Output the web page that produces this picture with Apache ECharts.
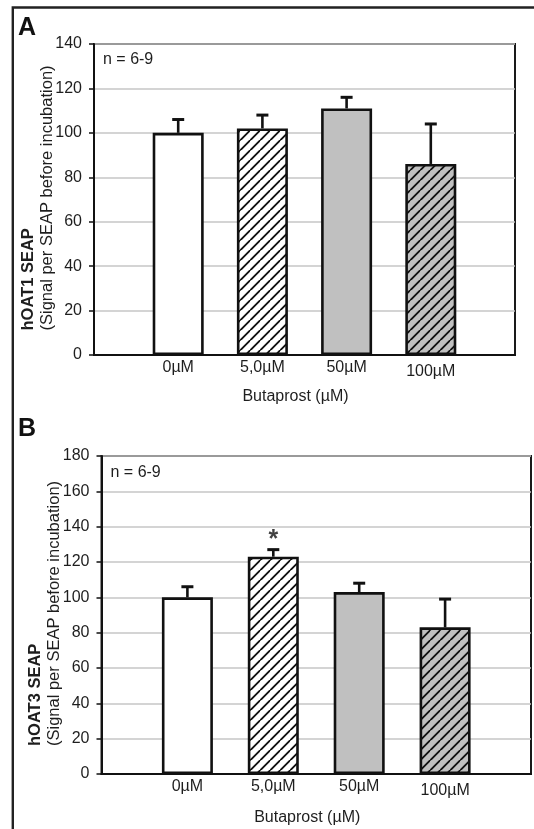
<!DOCTYPE html>
<html>
<head>
<meta charset="utf-8">
<script src="https://cdn.jsdelivr.net/npm/echarts@6/dist/echarts.min.js"></script>
<style>
  html, body { margin: 0; padding: 0; background: #fff; }
  #chart { width: 534px; height: 829px; }
</style>
</head>
<body>
<div id="chart"></div>
<script>
// values
const categories = ['0µM', '5,0µM', '50µM', '100µM'];
const oat1Mean = [100, 102, 111, 86];
const oat1Upper = [106, 108, 116, 104];
const oat3Mean = [100, 123, 103, 83];
const oat3Upper = [106, 127, 108, 99];
const starValue = 134; // "*" above 5,0µM in panel B
const starIndex = 1;

const FONT = '"Liberation Sans", Arial, sans-serif';
const INK = '#1e1e1e';
const GREY = '#c0c0c0';

// diagonal hatch pattern
function hatch(bg) {
  const s = 10.5;
  const c = document.createElement('canvas');
  c.width = s; c.height = s;
  const ctx = c.getContext('2d');
  ctx.fillStyle = bg;
  ctx.fillRect(0, 0, s, s);
  ctx.strokeStyle = '#111';
  ctx.lineWidth = 1.9;
  ctx.beginPath();
  ctx.moveTo(-1, s + 1); ctx.lineTo(s + 1, -1);
  ctx.moveTo(-1, 1); ctx.lineTo(1, -1);
  ctx.moveTo(s - 1, s + 1); ctx.lineTo(s + 1, s - 1);
  ctx.stroke();
  return { image: c, repeat: 'repeat' };
}

const fills = ['#ffffff', hatch('#ffffff'), GREY, hatch(GREY)];

// pad categories so bars sit at 1/5 ... 4/5 of the width
const axisCats = [''].concat(categories, ['']);

function barData(values) {
  return ['-'].concat(values.map((v, i) => ({ value: v, itemStyle: { color: fills[i] } })), ['-']);
}
function errData(mean, upper) {
  return mean.map((m, i) => [i + 1, m, upper[i]]);
}

function errorBar(params, api) {
  const base = api.coord([api.value(0), api.value(1)]);
  const top = api.coord([api.value(0), api.value(2)]);
  return {
    type: 'group',
    children: [
      { type: 'line', shape: { x1: base[0], y1: base[1], x2: top[0], y2: top[1] },
        style: { stroke: '#111', lineWidth: 2.6 } },
      { type: 'line', shape: { x1: top[0] - 6, y1: top[1], x2: top[0] + 6, y2: top[1] },
        style: { stroke: '#111', lineWidth: 3 } }
    ]
  };
}

function yName(label) {
  return '{b|' + label + '}\n{n|(Signal per SEAP before incubation)}';
}
const yNameStyle = {
  color: INK,
  fontFamily: FONT,
  rich: {
    b: { fontWeight: 'bold', fontSize: 16.5, width: 262, align: 'left', lineHeight: 19, color: INK, fontFamily: FONT },
    n: { fontSize: 16.5, width: 262, align: 'left', lineHeight: 19, color: INK, fontFamily: FONT }
  }
};

function yAxis(idx, max, gap) {
  return {
    type: 'value', gridIndex: idx, min: 0, max: max, interval: 20,
    name: yName(idx === 0 ? 'hOAT1 SEAP' : 'hOAT3 SEAP'),
    nameLocation: 'middle', nameRotate: 90, nameGap: gap, nameMoveOverlap: false,
    nameTextStyle: yNameStyle,
    axisLine: { show: true, lineStyle: { color: '#111', width: 2 } },
    axisTick: { show: true, length: 5, lineStyle: { color: '#111', width: 1.5 } },
    axisLabel: { margin: 12, fontSize: 16, color: INK, fontFamily: FONT },
    splitLine: { show: true, lineStyle: { color: '#c6c6c6', width: 1.6 } }
  };
}

function xAxis(idx, gap) {
  return {
    type: 'category', gridIndex: idx, data: axisCats, boundaryGap: false,
    name: 'Butaprost (µM)', nameLocation: 'middle', nameGap: gap, nameMoveOverlap: false,
    nameTextStyle: { fontSize: 16, color: INK, fontFamily: FONT, padding: [0, 18, 0, 0] },
    axisLine: { show: true, lineStyle: { color: '#111', width: 2 } },
    axisTick: { show: false },
    axisLabel: {
      margin: 5, fontSize: 16, color: INK, fontFamily: FONT, interval: 0,
      formatter: v => (v === '100µM' ? '{low|' + v + '}' : v),
      rich: { low: { fontSize: 16, color: INK, fontFamily: FONT, padding: [4, 0, 0, 0] } }
    },
    splitLine: { show: false }
  };
}

const chart = echarts.init(document.getElementById('chart'), null, { renderer: 'canvas' });

const option = {
  backgroundColor: '#fff',
  animation: false,
  grid: [
    { left: 94, top: 44, right: 19, height: 311, show: true, borderColor: '#1a1a1a', borderWidth: 2 },
    { left: 101.5, top: 456, right: 3, height: 318, show: true, borderColor: '#1a1a1a', borderWidth: 2 }
  ],
  xAxis: [xAxis(0, 34), xAxis(1, 36)],
  yAxis: [yAxis(0, 140, 37), yAxis(1, 180, 37.5)],
  graphic: [
    { type: 'polyline', shape: { points: [[12.8, 829], [12.8, 7.5], [534, 7.5]] },
      style: { stroke: '#222', lineWidth: 2.4, fill: null } },
    { type: 'text', left: 18, top: 16, style: { text: 'A', font: 'bold 25px ' + FONT, fill: '#111' } },
    { type: 'text', left: 18, top: 417, style: { text: 'B', font: 'bold 25px ' + FONT, fill: '#111' } },
    { type: 'text', left: 103, top: 52, style: { text: 'n = 6-9', font: '16px ' + FONT, fill: INK } },
    { type: 'text', left: 110.5, top: 465, style: { text: 'n = 6-9', font: '16px ' + FONT, fill: INK } }
  ],
  series: [
    {
      type: 'bar', xAxisIndex: 0, yAxisIndex: 0, barWidth: 51,
      data: barData(oat1Mean),
      itemStyle: { borderColor: '#111', borderWidth: 2.6 }
    },
    {
      type: 'custom', xAxisIndex: 0, yAxisIndex: 0, z: 3,
      renderItem: errorBar, data: errData(oat1Mean, oat1Upper)
    },
    {
      type: 'bar', xAxisIndex: 1, yAxisIndex: 1, barWidth: 51,
      data: barData(oat3Mean),
      itemStyle: { borderColor: '#111', borderWidth: 2.6 }
    },
    {
      type: 'custom', xAxisIndex: 1, yAxisIndex: 1, z: 3,
      renderItem: errorBar, data: errData(oat3Mean, oat3Upper)
    },
    {
      type: 'scatter', xAxisIndex: 1, yAxisIndex: 1, symbolSize: 0,
      data: [[starIndex + 1, starValue]],
      label: { show: true, position: 'inside', formatter: '*', fontSize: 25, fontWeight: 'bold',
        color: '#111', fontFamily: FONT, offset: [0, 3] }
    }
  ]
};

chart.setOption(option);
</script>
</body>
</html>
